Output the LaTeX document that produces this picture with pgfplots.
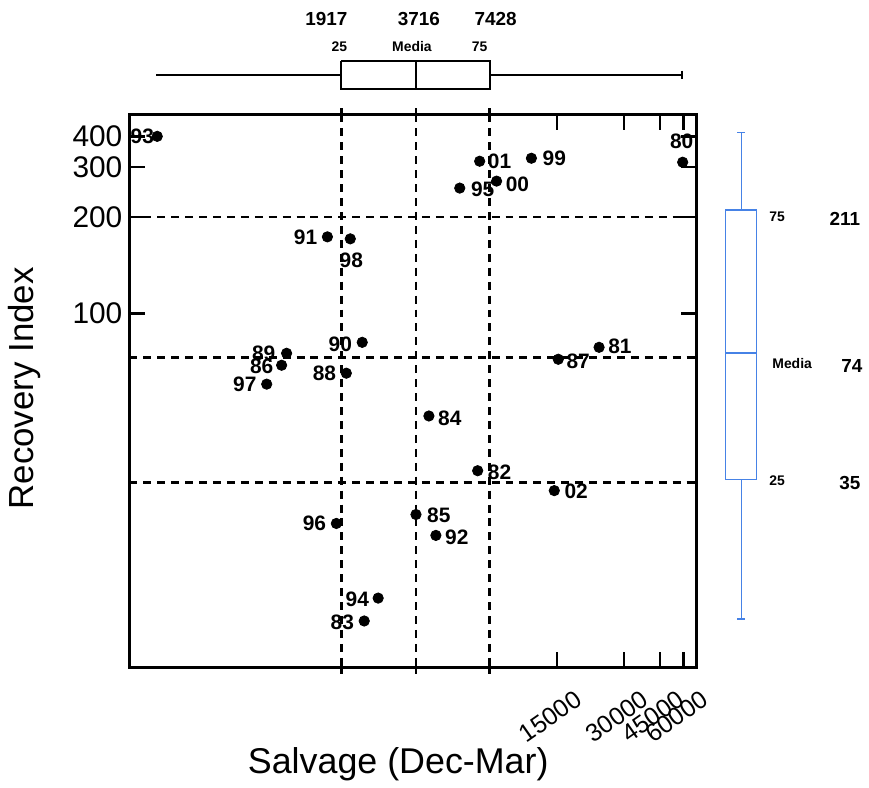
\documentclass[border=0pt]{standalone}
\usepackage{pgfplots}
\pgfplotsset{compat=1.18}
\usepackage{pgfplotstable}
\usepackage{fontspec}
\setmainfont{Liberation Sans}
\definecolor{boxblue}{RGB}{70,130,230}

% positions in display units of the chart (x: Salvage, y: Recovery Index, both on the chart's non-linear scales)
\pgfplotstableread{
x y
158 137
329 238
352 240
364 344
288 355
283 367
348 375
268 386
482 162
534 159
686 163
462 189
499 182
561 361
602 349
338 526
380 601
366 624
431 418
480 473
557 493
418 517
438 538
}\dots

\pgfplotstableread{
lx ly lab
143 137 93
307 238 91
353 262 98
342 346 90
265 355 89
263 368 86
326 375 88
246 386 97
502 162 01
557 159 99
685 142 80
485 190 95
520 185 00
581 363 87
623 348 81
316 526 96
359 602 94
344 625 83
452 420 84
502 475 82
579 494 02
441 518 85
459 540 92
}\labels

\begin{document}
\begin{tikzpicture}
\begin{axis}[
  scale only axis, width=285pt, height=278pt,
  xmin=130, xmax=700, ymin=115, ymax=671, y dir=reverse,
  clip=false,
  axis line style={line width=1.4pt},
  xtick={560,627,663,687}, xticklabels={15000,30000,45000,60000},
  ytick={137,168,218,315}, yticklabels={400,300,200,100},
  tick align=inside, xtick pos=both, ytick pos=both,
  xticklabel pos=lower, yticklabel pos=left,
  major tick length=8pt,
  tick style={line width=1.2pt, black},
  extra x ticks={343,418,492}, extra x tick labels={,,},
  extra x tick style={tick align=center, major tick length=6pt},
  xticklabel style={rotate=35, anchor=north east, xshift=4pt, yshift=-10pt, font=\fontsize{12.5}{12.5}\selectfont},
  yticklabel style={font=\fontsize{15}{15}\selectfont},
  xlabel={Salvage (Dec-Mar)}, ylabel={Recovery Index},
  xlabel style={at={(axis description cs:0.474,-0.174)}, anchor=center, font=\fontsize{18}{18}\selectfont},
  ylabel style={at={(axis description cs:-0.184,0.505)}, anchor=center, font=\fontsize{17.5}{17.5}\selectfont},
]
% reference (quartile) lines
\addplot[black, line width=1.3pt, dash pattern=on 4pt off 3pt] coordinates {(130,218) (700,218)};
\addplot[black, line width=1.3pt, dash pattern=on 4pt off 3pt] coordinates {(130,359) (700,359)};
\addplot[black, line width=1.3pt, dash pattern=on 4pt off 3pt] coordinates {(130,485) (700,485)};
\addplot[black, line width=1.3pt, dash pattern=on 4pt off 3pt] coordinates {(343,115) (343,671)};
\addplot[black, line width=1.3pt, dash pattern=on 4pt off 3pt] coordinates {(418,115) (418,671)};
\addplot[black, line width=1.3pt, dash pattern=on 4pt off 3pt] coordinates {(492,115) (492,671)};

% points
\addplot[only marks, mark=*, mark size=2.6pt, black] table[x=x, y=y] {\dots};
\addplot[only marks, mark=none, nodes near coords, point meta=explicit symbolic,
  every node near coord/.append style={anchor=center, inner sep=0pt, font=\bfseries\fontsize{10.5}{10.5}\selectfont}]
  table[x=lx, y=ly, meta=lab] {\labels};

% top marginal box plot (Salvage)
\addplot[black, line width=1pt] coordinates {(343,61) (492,61) (492,89) (343,89) (343,61)};
\addplot[black, line width=1pt] coordinates {(418,61) (418,89)};
\addplot[black, line width=1pt] coordinates {(157,75) (343,75)};
\addplot[black, line width=1pt] coordinates {(492,75) (685,75)};
\addplot[black, line width=1pt] coordinates {(685,71) (685,79)};

% right marginal box plot (Recovery Index)
\addplot[boxblue, line width=0.8pt] coordinates {(729,211) (760,211) (760,482) (729,482) (729,211)};
\addplot[boxblue, line width=0.8pt] coordinates {(729,355) (760,355)};
\addplot[boxblue, line width=0.8pt] coordinates {(745,133) (745,211)};
\addplot[boxblue, line width=0.8pt] coordinates {(745,482) (745,622)};
\addplot[boxblue, line width=0.8pt] coordinates {(741,133) (749,133)};
\addplot[boxblue, line width=0.8pt] coordinates {(741,622) (749,622)};

% box plot annotations
\node[font=\bfseries\fontsize{9.5}{9.5}\selectfont] at (axis cs:328,19) {1917};
\node[font=\bfseries\fontsize{9.5}{9.5}\selectfont] at (axis cs:421,19) {3716};
\node[font=\bfseries\fontsize{9.5}{9.5}\selectfont] at (axis cs:498,19) {7428};
\node[font=\bfseries\fontsize{7}{7}\selectfont] at (axis cs:341,47) {25};
\node[font=\bfseries\fontsize{7}{7}\selectfont] at (axis cs:414,47) {Media};
\node[font=\bfseries\fontsize{7}{7}\selectfont] at (axis cs:482,47) {75};

\node[font=\bfseries\fontsize{7}{7}\selectfont] at (axis cs:781,218) {75};
\node[font=\bfseries\fontsize{7}{7}\selectfont] at (axis cs:796,365) {Media};
\node[font=\bfseries\fontsize{7}{7}\selectfont] at (axis cs:781,483) {25};
\node[font=\bfseries\fontsize{9.5}{9.5}\selectfont] at (axis cs:849,220) {211};
\node[font=\bfseries\fontsize{9.5}{9.5}\selectfont] at (axis cs:856,368) {74};
\node[font=\bfseries\fontsize{9.5}{9.5}\selectfont] at (axis cs:854,485) {35};

\path (axis cs:0,0) rectangle (axis cs:869,789);
\end{axis}
\end{tikzpicture}
\end{document}
